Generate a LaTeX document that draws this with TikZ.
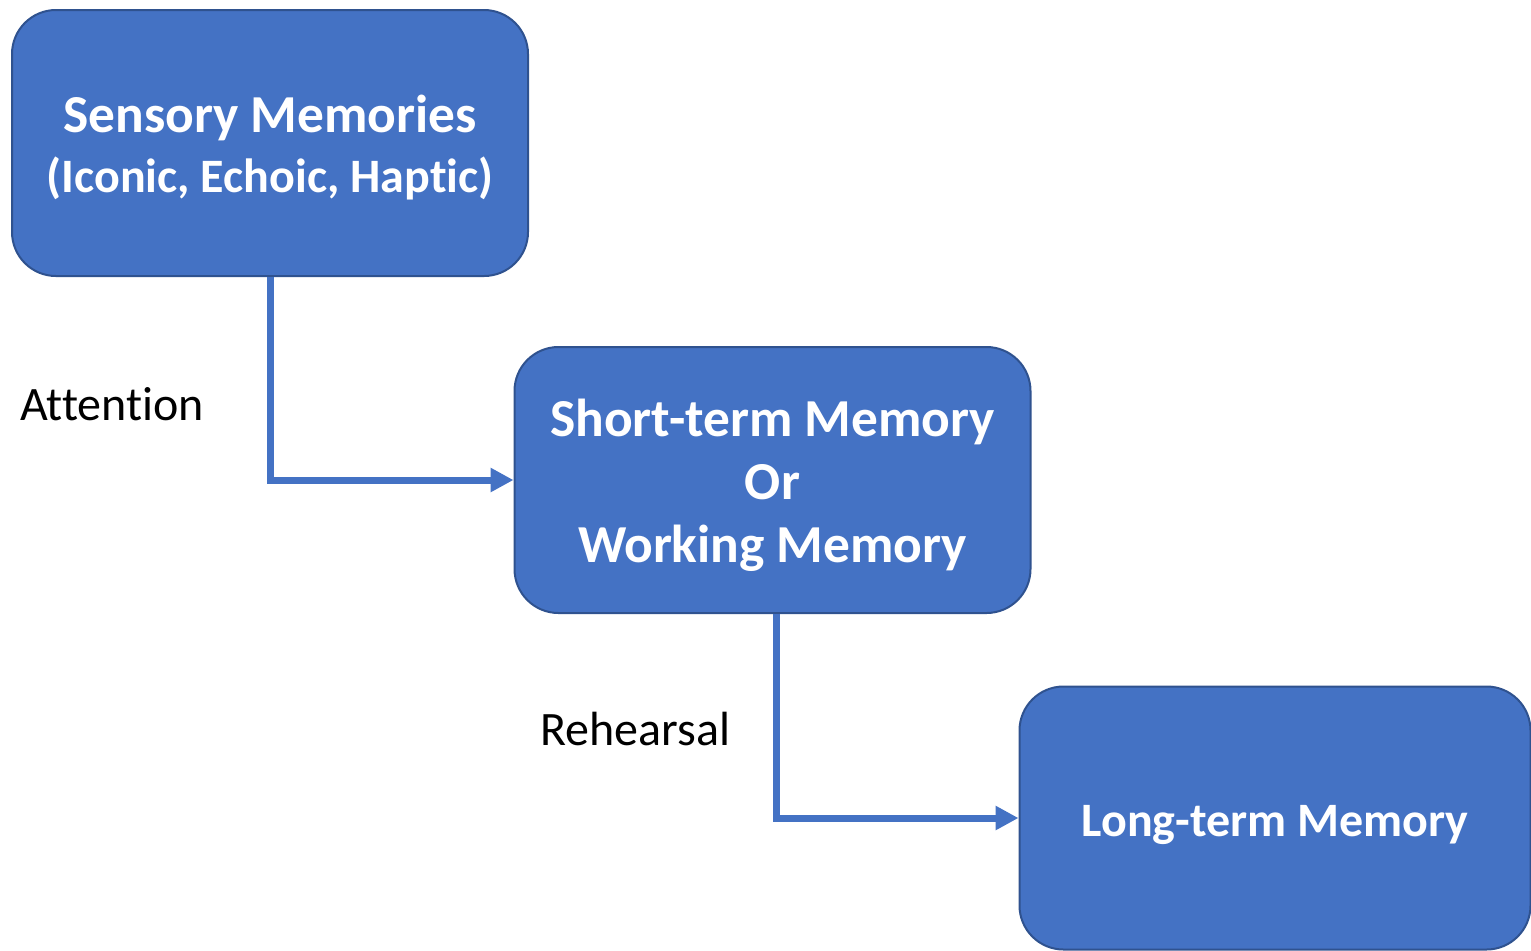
\documentclass[tikz,border=0pt]{standalone}
\usepackage{fontspec}
\setmainfont{Carlito}[Ligatures=NoCommon]
\usepackage{xcolor}
\usetikzlibrary{arrows.meta, positioning}

\definecolor{boxblue}{HTML}{4472C4}
\definecolor{boxedge}{HTML}{2F528F}

% box text, set a little low as in the slide
\newcommand{\memtext}[1]{\raisebox{-3.5pt}[\height][\depth]{\begin{tabular}{@{}c@{}}#1\end{tabular}}}

\begin{document}
\begin{tikzpicture}[
  x=0.5pt, y=-0.5pt,
  memory/.style={rectangle, draw=boxedge, line width=1pt, fill=boxblue,
    rounded corners=22pt, minimum width=258pt, minimum height=133pt,
    inner sep=0pt, text=white, font=\bfseries},
  flow/.style={-{Triangle[length=11.5pt, width=11.5pt]}, line width=3.5pt, boxblue},
  step label/.style={font=\fontsize{24}{28}\selectfont, text=black}
]
\useasboundingbox (0,0) rectangle (1531,950);

\node[memory] (sensory) at (270,143)
  {\fontsize{26.7}{30}\selectfont\memtext{Sensory Memories\\\fontsize{24}{30}\selectfont(Iconic, Echoic, Haptic)}};
\node[memory] (short) at (772.5,480)
  {\fontsize{26.7}{31.5}\selectfont\memtext{Short-term Memory\\Or\\Working Memory}};
\node[memory, minimum width=255.5pt, minimum height=131.5pt] (long) at (1275,818)
  {\fontsize{24}{29}\selectfont\memtext{Long-term Memory}};

\draw[flow] (sensory.south) |- (short.west);
\draw[flow] ([xshift=2pt]short.south) |- (long.west);

\node[step label] (attention) at (112,404) {Attention};
\node[step label] (rehearsal) at (635,729) {Rehearsal};
\end{tikzpicture}
\end{document}
